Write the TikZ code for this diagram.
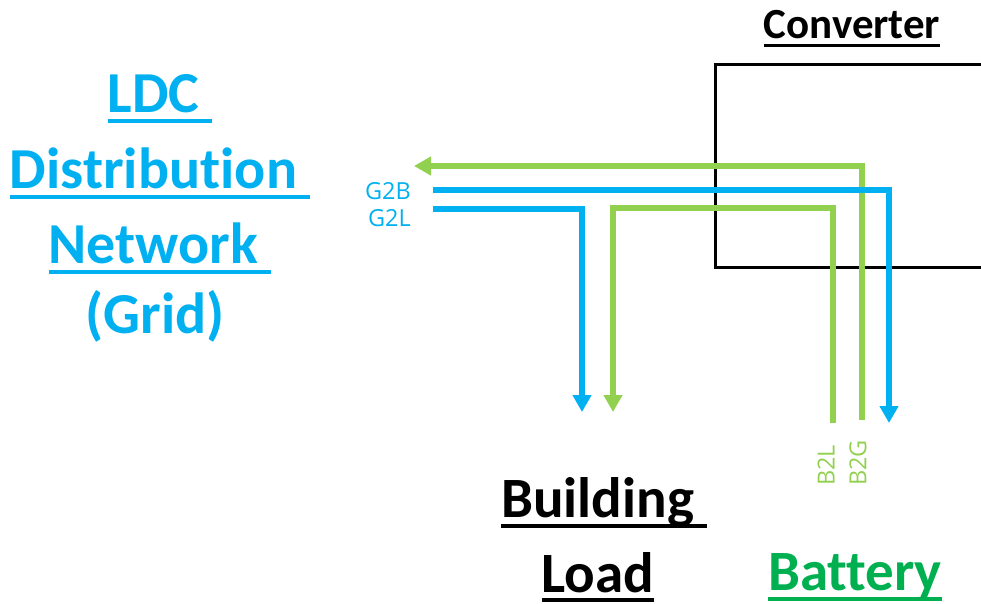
\documentclass[tikz,border=0pt]{standalone}
\usepackage{fontspec}
\setmainfont{Carlito}[Ligatures=NoCommon]
\newfontfamily\labelfont{Open Sans}
\usetikzlibrary{arrows.meta}
\definecolor{gridblue}{HTML}{00B0F0}
\definecolor{flowgreen}{HTML}{92D050}
\definecolor{batgreen}{HTML}{00B050}
% underlined word: #1 = rule depth below baseline, #2 = rule thickness, #3 = text
\newcommand{\wordrule}[3]{\sbox0{#3}\rlap{\rule[-#1]{\wd0}{#2}}\usebox0}
\begin{document}
\begin{tikzpicture}[x=1pt,y=-1pt,
  title/.style={anchor=base,inner sep=0pt,font=\bfseries\fontsize{58}{60}\selectfont,text=gridblue},
  block/.style={anchor=base,inner sep=0pt,font=\bfseries\fontsize{57}{60}\selectfont},
  flowtag/.style={inner sep=0pt,font=\labelfont\fontsize{23.5}{25}\selectfont},
  flow/.style={line width=6pt},
  tip/.style={-{Triangle[length=17pt,width=18pt]}},
  frame/.style={line width=3pt,line cap=rect}]
\useasboundingbox (0,0) rectangle (981,603);

% grid side
\node[title] (ldc) at (160,112) {\wordrule{11pt}{4pt}{LDC\ }};
\node[title] (dist) at (160,188) {\wordrule{11pt}{4pt}{Distribution\ }};
\node[title] (net) at (160,263) {\wordrule{11pt}{4pt}{Network\ }};
\node[title] (gridtxt) at (155,333) {(Grid)};

% converter
\node[anchor=base,inner sep=0pt,font=\bfseries\fontsize{43}{46}\selectfont] (conv) at (852,38) {\wordrule{9pt}{3pt}{Converter}};
\coordinate (cvtr) at (981,64);
\coordinate (cvtl) at (715,64);
\coordinate (cvbl) at (715,267);
\coordinate (cvbr) at (981,267);
\draw[frame] (cvtr) -- (cvtl) -- (cvbl) -- (cvbr);

% loads
\node[block] (bld) at (604,517) {\wordrule{11pt}{4pt}{Building\ }};
\node[block] (load) at (598,592) {\wordrule{10pt}{4pt}{Load}};
\node[block,text=batgreen] (bat) at (855,590) {\wordrule{11pt}{4pt}{Battery}};

% flow labels
\node[flowtag,text=gridblue,anchor=east] (g2b) at (411,191) {G2B};
\node[flowtag,text=gridblue,anchor=east] (g2l) at (411,218) {G2L};
\node[flowtag,text=flowgreen,rotate=90,anchor=west] (b2l) at (826,486) {B2L};
\node[flowtag,text=flowgreen,rotate=90,anchor=west] (b2g) at (858,486) {B2G};

% flow end points
\coordinate (g2bstart) at (433,190);
\coordinate (g2bend) at (889,423);
\coordinate (g2lstart) at (433,209);
\coordinate (g2lend) at (582,412);
\coordinate (b2lstart) at (833,423);
\coordinate (b2lbend) at (613,208);
\coordinate (b2lend) at (613,412);
\coordinate (b2gstart) at (862,420);
\coordinate (b2gend) at (414,166);

% flows
\draw[flow,flowgreen,tip] (b2gstart) |- (b2gend);
\draw[flow,gridblue,tip] (g2bstart) -| (g2bend);
\draw[flow,flowgreen,tip] (b2lstart) |- (b2lbend) -- (b2lend);
\draw[flow,gridblue,tip] (g2lstart) -| (g2lend);
\end{tikzpicture}
\end{document}
